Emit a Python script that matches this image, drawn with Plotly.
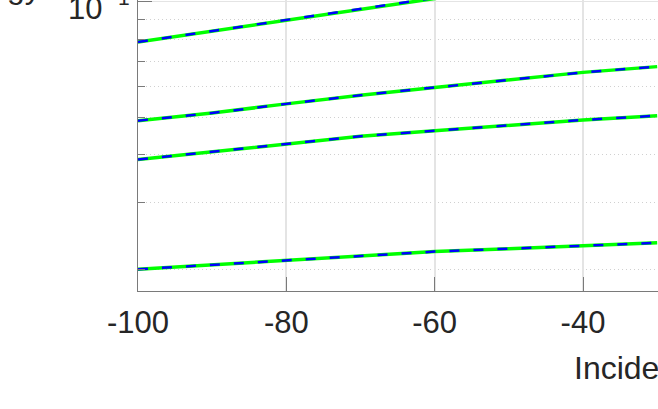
import plotly.graph_objects as go

# Data
angles = [-100, -90, -80, -70, -60, -50, -40, -30]
curve_a = [7.86, 8.40, 8.97, 9.59, 10.25, 10.9, 11.5, 12.0]
curve_b = [4.90, 5.13, 5.42, 5.71, 5.98, 6.27, 6.55, 6.78]
curve_c = [3.88, 4.06, 4.26, 4.46, 4.61, 4.76, 4.92, 5.05]
curve_d = [2.005, 2.06, 2.12, 2.18, 2.23, 2.27, 2.31, 2.35]
curves = [curve_a, curve_b, curve_c, curve_d]

x_ticks = [-100, -80, -60, -40]
x_tick_labels = ["-100", "-80", "-60", "-40"]
y_major = [10]
y_major_base = "10"
y_major_exp = "1"
y_minor = [2, 3, 4, 5, 6, 7, 8, 9]

W, H = 658, 409
L, B = 138, 118
plot_w = W - L
plot_h = H - B


def px_x(p):
    return (p - L) / plot_w


def px_y(p):
    return (plot_h - p) / plot_h


fig = go.Figure()
for c in curves:
    fig.add_trace(go.Scatter(x=angles, y=c, mode="lines",
                             line=dict(color="#00FF00", width=3.5),
                             showlegend=False, hoverinfo="skip"))
    fig.add_trace(go.Scatter(x=angles, y=c, mode="lines",
                             line=dict(color="#0000FF", width=2.5, dash="10px,14px"),
                             showlegend=False, hoverinfo="skip"))

font = "Liberation Sans, Arial, Helvetica, sans-serif"
axis_col = "#7a7a7a"
txt_col = "#262626"

fig.update_xaxes(
    range=[-100, -100 + plot_w / 7.4167],
    tickvals=x_ticks, ticktext=x_tick_labels,
    ticks="inside", ticklen=14, tickcolor=axis_col, tickwidth=1,
    showline=True, linecolor=axis_col, linewidth=1,
    showgrid=True, gridcolor="#e4e4e4", gridwidth=1.5,
    zeroline=False, automargin=False, ticklabeloverflow="allow",
    tickfont=dict(family=font, size=31, color=txt_col),
    ticklabelstandoff=4,
)
fig.update_yaxes(
    type="log",
    range=[0.2454, 1.0052],
    tickvals=y_major, showticklabels=False,
    ticks="inside", ticklen=14, tickcolor=axis_col, tickwidth=1,
    showline=True, linecolor=axis_col, linewidth=1,
    showgrid=True, gridcolor="#e4e4e4", gridwidth=1,
    zeroline=False, automargin=False,
    minor=dict(tickvals=y_minor, ticks="inside", ticklen=7, tickcolor=axis_col,
               showgrid=True, gridcolor="#d0d0d0", griddash="1px,3px", gridwidth=1),
)

# y tick label 10^1 (MATLAB style, with separated exponent)
fig.add_annotation(text=y_major_base, xref="paper", yref="paper",
                   x=px_x(104), y=px_y(28), xanchor="right", yanchor="bottom",
                   showarrow=False, font=dict(family=font, size=31, color=txt_col))
fig.add_annotation(text=y_major_exp, xref="paper", yref="paper",
                   x=px_x(116), y=px_y(11), xanchor="left", yanchor="bottom",
                   showarrow=False, font=dict(family=font, size=21, color=txt_col))

fig.add_annotation(text="Incidence angle (deg)", xref="paper", yref="paper",
                   x=px_x(572), y=px_y(348),
                   xanchor="left", yanchor="top", showarrow=False,
                   font=dict(family=font, size=32, color=txt_col))
fig.add_annotation(text="gy", xref="paper", yref="paper",
                   x=px_x(43), y=px_y(7),
                   xanchor="right", yanchor="bottom", showarrow=False,
                   font=dict(family=font, size=32, color=txt_col))

fig.update_layout(
    width=W, height=H,
    margin=dict(l=L, r=0, t=0, b=B),
    paper_bgcolor="white", plot_bgcolor="white",
)
fig.write_html("out.html", config={"displayModeBar": False},
               post_script="document.body.style.margin='0';document.body.style.overflow='hidden';")
